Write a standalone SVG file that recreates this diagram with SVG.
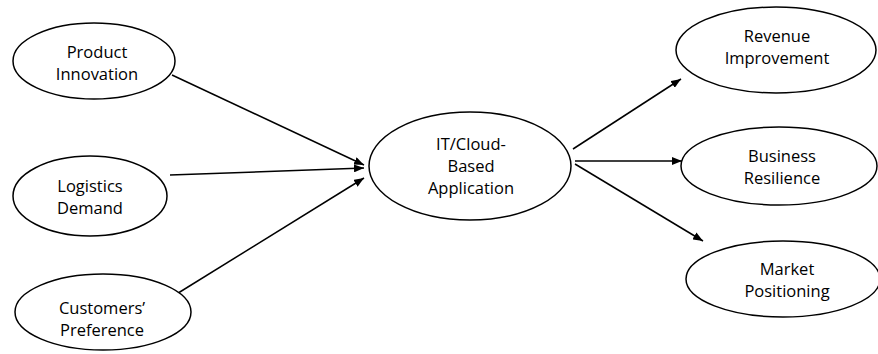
<svg xmlns="http://www.w3.org/2000/svg" width="878" height="354" viewBox="0 0 878 354">
<style>
.node ellipse{fill:#fff;stroke:#000;stroke-width:1.5}
.node text{font-family:"Open Sans","Liberation Sans",sans-serif;font-size:16.5px;fill:#000;text-anchor:middle}
.edges line{stroke:#000;stroke-width:1.5;marker-end:url(#ah)}
</style>
<defs>
<marker id="ah" viewBox="0 0 10 8" refX="10" refY="4" markerWidth="10" markerHeight="8" markerUnits="userSpaceOnUse" orient="auto">
<path d="M0,0 L10,4 L0,8 Z" fill="#000"/>
</marker>
</defs>
<rect width="878" height="354" fill="#fff"/>
<g class="edges">
<line x1="172" y1="75" x2="364" y2="165"/>
<line x1="170" y1="175" x2="364" y2="168"/>
<line x1="175" y1="295" x2="364" y2="178"/>
<line x1="573" y1="149" x2="681" y2="79"/>
<line x1="575" y1="161" x2="682" y2="161"/>
<line x1="575" y1="164" x2="703" y2="241"/>
</g>
<g id="product-innovation" class="node">
<ellipse cx="94" cy="61" rx="81" ry="38"/>
<text x="97" y="58">Product</text>
<text x="97" y="80">Innovation</text>
</g>
<g id="logistics-demand" class="node">
<ellipse cx="90" cy="196" rx="77" ry="40"/>
<text x="90" y="192">Logistics</text>
<text x="90" y="214">Demand</text>
</g>
<g id="customers-preference" class="node">
<ellipse cx="103" cy="312" rx="88" ry="38"/>
<text x="102" y="314">Customers’</text>
<text x="102" y="336">Preference</text>
</g>
<g id="it-cloud" class="node">
<ellipse cx="470" cy="166" rx="101" ry="54"/>
<text x="471" y="150">IT/Cloud-</text>
<text x="471" y="172">Based</text>
<text x="471" y="194">Application</text>
</g>
<g id="revenue-improvement" class="node">
<ellipse cx="776" cy="50" rx="100" ry="43"/>
<text x="777" y="42">Revenue</text>
<text x="777" y="64">Improvement</text>
</g>
<g id="business-resilience" class="node">
<ellipse cx="779" cy="166" rx="98" ry="39"/>
<text x="782" y="162">Business</text>
<text x="782" y="184">Resilience</text>
</g>
<g id="market-positioning" class="node">
<ellipse cx="783" cy="279" rx="97" ry="38"/>
<text x="787" y="275">Market</text>
<text x="787" y="297">Positioning</text>
</g>
</svg>
